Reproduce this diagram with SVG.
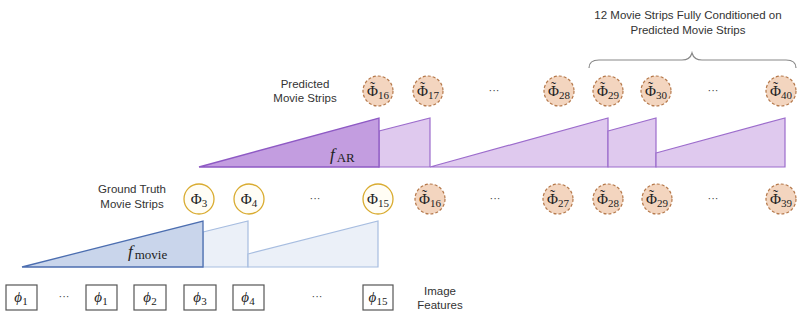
<svg xmlns="http://www.w3.org/2000/svg" width="809" height="319" viewBox="0 0 809 319">
<defs>
<style>
.lbl{font-family:"Liberation Sans",Arial,sans-serif;font-size:11.5px;fill:#333;text-anchor:middle}
.m{font-family:"Liberation Serif","DejaVu Serif",serif;font-size:15px;fill:#222;text-anchor:middle}
.s{font-size:11px}
.pc{fill:#f3d5bf;stroke:#b5784a;stroke-width:1.2;stroke-dasharray:3 2}
.gc{fill:#fffdf5;stroke:#d9ab2f;stroke-width:1.3}
.box{fill:#fff;stroke:#555;stroke-width:1.2}
.dots{font-family:"Liberation Sans",sans-serif;font-size:11px;fill:#444;text-anchor:middle}
.pd{fill:#c39de0;stroke:#8e5ac4;stroke-width:1.3}
.pl{fill:#dfc9ee;stroke:#9c6ccc;stroke-width:1.2}
.bd{fill:#c9d5eb;stroke:#4c6eb0;stroke-width:1.3}
.bl{fill:#ebf0f8;stroke:#a7bde0;stroke-width:1.2}
</style>
</defs>
<rect width="809" height="319" fill="#fff"/>

<g id="brace-label">
<text class="lbl" x="688" y="19">12 Movie Strips Fully Conditioned on</text>
<text class="lbl" x="688" y="34">Predicted Movie Strips</text>
<path d="M589,68 Q589,60 599,60 L682,60 Q690,60 692,53 Q694,60 702,60 L786,60 Q796,60 796,68" fill="none" stroke="#888" stroke-width="1.2"/>
</g>

<g id="labels">
<text class="lbl" x="305" y="88">Predicted</text>
<text class="lbl" x="305" y="102">Movie Strips</text>
<text class="lbl" x="132" y="193">Ground Truth</text>
<text class="lbl" x="132" y="208">Movie Strips</text>
<text class="lbl" x="440" y="295">Image</text>
<text class="lbl" x="440" y="309">Features</text>
</g>

<g id="connectors">
<polygon class="pl" points="379,131 430,118 430,167 379,167"/>
<polygon class="pl" points="430,167 608,118 608,167"/>
<polygon class="pl" points="608,131 656,118 656,167 608,167"/>
<polygon class="pl" points="656,153 785,118 785,167 656,167"/>
<polygon class="pd" points="199,167 379,118 379,167"/>
<text x="330" y="160" font-family="'Liberation Serif',serif" font-size="17" fill="#222"><tspan font-style="italic">f</tspan><tspan font-size="13" dy="2" dx="2">AR</tspan></text>
<polygon class="bl" points="203,232 248,221 248,267 203,267"/>
<polygon class="bl" points="248,254 378,221 378,267 248,267"/>
<polygon class="bd" points="22,267 203,221 203,267"/>
<text x="128" y="257" font-family="'Liberation Serif',serif" font-size="17" fill="#222"><tspan font-style="italic">f</tspan><tspan font-size="13" dy="2" dx="2">movie</tspan></text>
</g>

<g id="predicted-row">
<g id="p16"><circle class="pc" cx="378" cy="91" r="15"/><text class="m" x="378" y="96">Φ<tspan dx="-8" dy="-4">˜</tspan><tspan class="s" dx="3" dy="7">16</tspan></text></g>
<g id="p17"><circle class="pc" cx="428" cy="91" r="15"/><text class="m" x="428" y="96">Φ<tspan dx="-8" dy="-4">˜</tspan><tspan class="s" dx="3" dy="7">17</tspan></text></g>
<text class="dots" x="494" y="94">···</text>
<g id="p28"><circle class="pc" cx="559" cy="91" r="15"/><text class="m" x="559" y="96">Φ<tspan dx="-8" dy="-4">˜</tspan><tspan class="s" dx="3" dy="7">28</tspan></text></g>
<g id="p29"><circle class="pc" cx="608" cy="91" r="15"/><text class="m" x="608" y="96">Φ<tspan dx="-8" dy="-4">˜</tspan><tspan class="s" dx="3" dy="7">29</tspan></text></g>
<g id="p30"><circle class="pc" cx="656" cy="91" r="15"/><text class="m" x="656" y="96">Φ<tspan dx="-8" dy="-4">˜</tspan><tspan class="s" dx="3" dy="7">30</tspan></text></g>
<text class="dots" x="713" y="94">···</text>
<g id="p40"><circle class="pc" cx="781" cy="91" r="15"/><text class="m" x="781" y="96">Φ<tspan dx="-8" dy="-4">˜</tspan><tspan class="s" dx="3" dy="7">40</tspan></text></g>
</g>

<g id="gt-row">
<g id="g3"><circle class="gc" cx="199" cy="199" r="15"/><text class="m" x="199" y="204">Φ<tspan class="s" dy="3">3</tspan></text></g>
<g id="g4"><circle class="gc" cx="249" cy="199" r="15"/><text class="m" x="249" y="204">Φ<tspan class="s" dy="3">4</tspan></text></g>
<text class="dots" x="315" y="202">···</text>
<g id="g15"><circle class="gc" cx="378" cy="199" r="15"/><text class="m" x="378" y="204">Φ<tspan class="s" dy="3">15</tspan></text></g>
<g id="q16"><circle class="pc" cx="430" cy="199" r="15"/><text class="m" x="430" y="204">Φ<tspan dx="-8" dy="-4">˜</tspan><tspan class="s" dx="3" dy="7">16</tspan></text></g>
<text class="dots" x="495" y="202">···</text>
<g id="q27"><circle class="pc" cx="558" cy="199" r="15"/><text class="m" x="558" y="204">Φ<tspan dx="-8" dy="-4">˜</tspan><tspan class="s" dx="3" dy="7">27</tspan></text></g>
<g id="q28"><circle class="pc" cx="608" cy="199" r="15"/><text class="m" x="608" y="204">Φ<tspan dx="-8" dy="-4">˜</tspan><tspan class="s" dx="3" dy="7">28</tspan></text></g>
<g id="q29"><circle class="pc" cx="657" cy="199" r="15"/><text class="m" x="657" y="204">Φ<tspan dx="-8" dy="-4">˜</tspan><tspan class="s" dx="3" dy="7">29</tspan></text></g>
<text class="dots" x="713" y="202">···</text>
<g id="q39"><circle class="pc" cx="781" cy="199" r="15"/><text class="m" x="781" y="204">Φ<tspan dx="-8" dy="-4">˜</tspan><tspan class="s" dx="3" dy="7">39</tspan></text></g>
</g>

<g id="feature-row">
<g id="f1a"><rect class="box" x="6" y="285" width="31" height="25"/><text class="m" x="21" y="302"><tspan font-style="italic">ϕ</tspan><tspan class="s" dy="3">1</tspan></text></g>
<text class="dots" x="64" y="300">···</text>
<g id="f1b"><rect class="box" x="86" y="285" width="31" height="25"/><text class="m" x="101" y="302"><tspan font-style="italic">ϕ</tspan><tspan class="s" dy="3">1</tspan></text></g>
<g id="f2"><rect class="box" x="134" y="285" width="32" height="25"/><text class="m" x="150" y="302"><tspan font-style="italic">ϕ</tspan><tspan class="s" dy="3">2</tspan></text></g>
<g id="f3"><rect class="box" x="184" y="285" width="32" height="25"/><text class="m" x="200" y="302"><tspan font-style="italic">ϕ</tspan><tspan class="s" dy="3">3</tspan></text></g>
<g id="f4"><rect class="box" x="233" y="285" width="31" height="25"/><text class="m" x="248" y="302"><tspan font-style="italic">ϕ</tspan><tspan class="s" dy="3">4</tspan></text></g>
<text class="dots" x="317" y="300">···</text>
<g id="f15"><rect class="box" x="363" y="285" width="30" height="25"/><text class="m" x="378" y="302"><tspan font-style="italic">ϕ</tspan><tspan class="s" dy="3">15</tspan></text></g>
</g>
</svg>
